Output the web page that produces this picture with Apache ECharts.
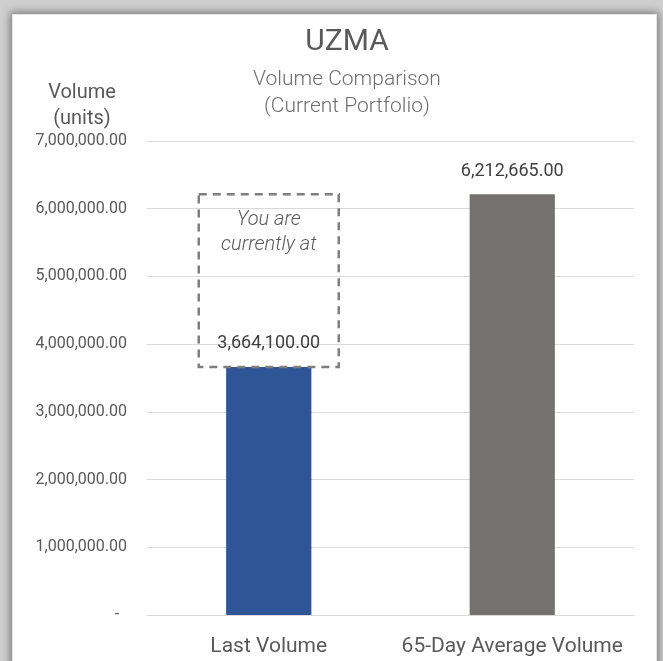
<!DOCTYPE html>
<html>
<head>
<meta charset="utf-8">
<script src="https://cdn.jsdelivr.net/npm/echarts@6/dist/echarts.min.js"></script>
<style>
  html, body { margin: 0; padding: 0; }
  body { width: 663px; height: 661px; background: #cfcfcf; position: relative; overflow: hidden; }
  #panel { position: absolute; left: 12px; top: 14px; width: 645px; height: 700px; background: #fff;
           border: 1px solid #e6e6e6; box-sizing: border-box; box-shadow: 0 0 8px 2px rgba(0,0,0,0.4); }
  #chart { position: absolute; left: 0; top: 0; width: 663px; height: 661px; }
</style>
</head>
<body>
<div id="panel"></div>
<div id="chart"></div>
<script>
// categories and values
var categories = ['Last Volume', '65-Day Average Volume'];
var volumes = [3664100, 6212665];
// y axis ticks
var yMin = 0, yMax = 7000000, yStep = 1000000;
// "You are currently at" box: from the last volume up to the average
var currentBox = [[0, 3664100, 6212665]];

var barColors = ['#2f5597', '#767171'];

function fmt(v) {
    if (v === 0) return '-  ';
    return v.toLocaleString('en-US', { minimumFractionDigits: 2, maximumFractionDigits: 2 });
}

var myChart = echarts.init(document.getElementById('chart'));
var options = {
    backgroundColor: 'transparent',
    textStyle: { fontFamily: 'Roboto' },
    title: [
        {
            text: 'UZMA',
            subtext: 'Volume Comparison\n(Current Portfolio)',
            left: 347,
            top: 27,
            textAlign: 'center',
            padding: 0,
            itemGap: 9,
            textStyle: { fontSize: 30, fontWeight: 'normal', color: '#595959', fontFamily: 'Roboto' },
            subtextStyle: { fontSize: 21, fontWeight: 300, color: '#6e6e6e', lineHeight: 27, fontFamily: 'Roboto' }
        },
        {
            text: 'Volume\n(units)',
            left: 82,
            top: 80,
            textAlign: 'center',
            padding: 0,
            textStyle: { fontSize: 20, fontWeight: 'normal', color: '#595959', lineHeight: 26, fontFamily: 'Roboto' }
        }
    ],
    grid: { left: 147, right: 29, top: 141, bottom: 46 },
    xAxis: {
        type: 'category',
        data: categories,
        axisTick: { show: false },
        axisLine: { lineStyle: { color: '#d9d9d9', width: 1 } },
        axisLabel: { interval: 0, fontSize: 21, color: '#595959', margin: 21, fontFamily: 'Roboto' }
    },
    yAxis: {
        type: 'value',
        min: yMin,
        max: yMax,
        interval: yStep,
        axisLine: { show: false },
        axisTick: { show: false },
        splitLine: { lineStyle: { color: '#d9d9d9', width: 1 } },
        axisLabel: { fontSize: 16, color: '#595959', margin: 20, formatter: fmt, fontFamily: 'Roboto' }
    },
    series: [
        {
            name: 'Volume',
            type: 'bar',
            data: volumes,
            barWidth: '35%',
            itemStyle: {
                color: function (p) { return barColors[p.dataIndex]; }
            },
            label: {
                show: true,
                position: 'top',
                distance: 14,
                fontSize: 18,
                color: '#404040',
                fontFamily: 'Roboto',
                formatter: function (p) { return fmt(p.value); }
            }
        },
        {
            name: 'box',
            type: 'custom',
            z: 5,
            silent: true,
            data: currentBox,
            encode: { x: 0, y: [1, 2] },
            renderItem: function (params, api) {
                var bottom = api.coord([api.value(0), api.value(1)]);
                var top = api.coord([api.value(0), api.value(2)]);
                var w = api.size([1, 0])[0] * 0.575;
                return {
                    type: 'group',
                    children: [
                        {
                            type: 'rect',
                            shape: { x: bottom[0] - w / 2, y: top[1], width: w, height: bottom[1] - top[1] },
                            style: { fill: 'none', stroke: '#7f7f7f', lineWidth: 2.5, lineDash: [8, 6] }
                        },
                        {
                            type: 'text',
                            x: bottom[0],
                            y: top[1] + 13,
                            style: {
                                text: 'You are\ncurrently at',
                                align: 'center',
                                verticalAlign: 'top',
                                fontFamily: 'Roboto',
                                fontStyle: 'italic',
                                fontWeight: 300,
                                fontSize: 20,
                                lineHeight: 25,
                                fill: '#595959'
                            }
                        }
                    ]
                };
            }
        }
    ]
};
myChart.setOption(options);
</script>
</body>
</html>
